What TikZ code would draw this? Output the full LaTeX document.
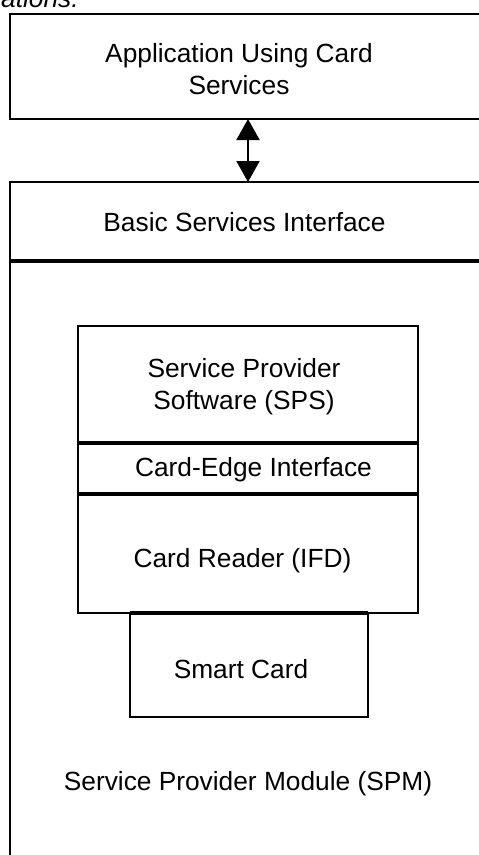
\documentclass[tikz,border=0pt]{standalone}
\usepackage{fontspec}
\setmainfont{Liberation Sans}
\usetikzlibrary{arrows.meta}
\tikzset{
  box/.style={draw, line width=2pt, rectangle, inner sep=0pt, outer sep=0pt},
  sep/.style={line width=3.6pt},
  lbl/.style={inner sep=0pt, align=center, font=\fontsize{26.3}{32}\selectfont},
}
\begin{document}
\begin{tikzpicture}[x=1pt,y=-1pt]
\useasboundingbox (0,0) rectangle (479,855);
\clip (0,0) rectangle (479,855);
% partially visible caption text
\node[inner sep=0pt, anchor=base west, font=\fontsize{26.3}{32}\selectfont\itshape] (cap) at (1,7) {ations:};
% boxes
\node[box, minimum width=500pt, minimum height=105pt] (app) at (260,66.5) {};
\node[box, minimum width=500pt, minimum height=79pt] (bsi) at (260,221.5) {};
\node[box, minimum width=500pt, minimum height=619pt] (spm) at (260,570.5) {};
\node[box, minimum width=340pt, minimum height=117pt] (sps) at (248,384.5) {};
\node[box, minimum width=340pt, minimum height=51pt] (cei) at (248,468.5) {};
\node[box, minimum width=340pt, minimum height=119pt] (cr) at (248,553.5) {};
\node[box, minimum width=238pt, minimum height=104pt] (sc) at (249,665) {};
% thick separators
\draw[sep] (bsi.south west) -- (bsi.south east);
\draw[sep] (sps.south west) -- (sps.south east);
\draw[sep] (cei.south west) -- (cei.south east);
\draw[sep] (sc.north west) -- (sc.north east);
% arrow
\coordinate (ax) at (248,0);
\draw[line width=2pt, {Triangle[width=23pt,length=21pt]}-{Triangle[width=23pt,length=21pt]}]
  (app.south -| ax) -- (bsi.north -| ax);
% labels
\node[lbl, anchor=base] (tapp) at (239,94) {Application Using Card\\Services};
\node[lbl, anchor=base] (tbsi) at (244.5,231) {Basic Services Interface};
\node[lbl, anchor=base] (tsps) at (244,409) {Service Provider\\Software (SPS)};
\node[lbl, anchor=base] (tcei) at (253.5,476) {Card-Edge Interface};
\node[lbl, anchor=base] (tcr) at (242.5,567) {Card Reader (IFD)};
\node[lbl, anchor=base] (tsc) at (241,678) {Smart Card};
\node[lbl, anchor=base] (tspm) at (248,790) {Service Provider Module (SPM)};
\end{tikzpicture}
\end{document}
